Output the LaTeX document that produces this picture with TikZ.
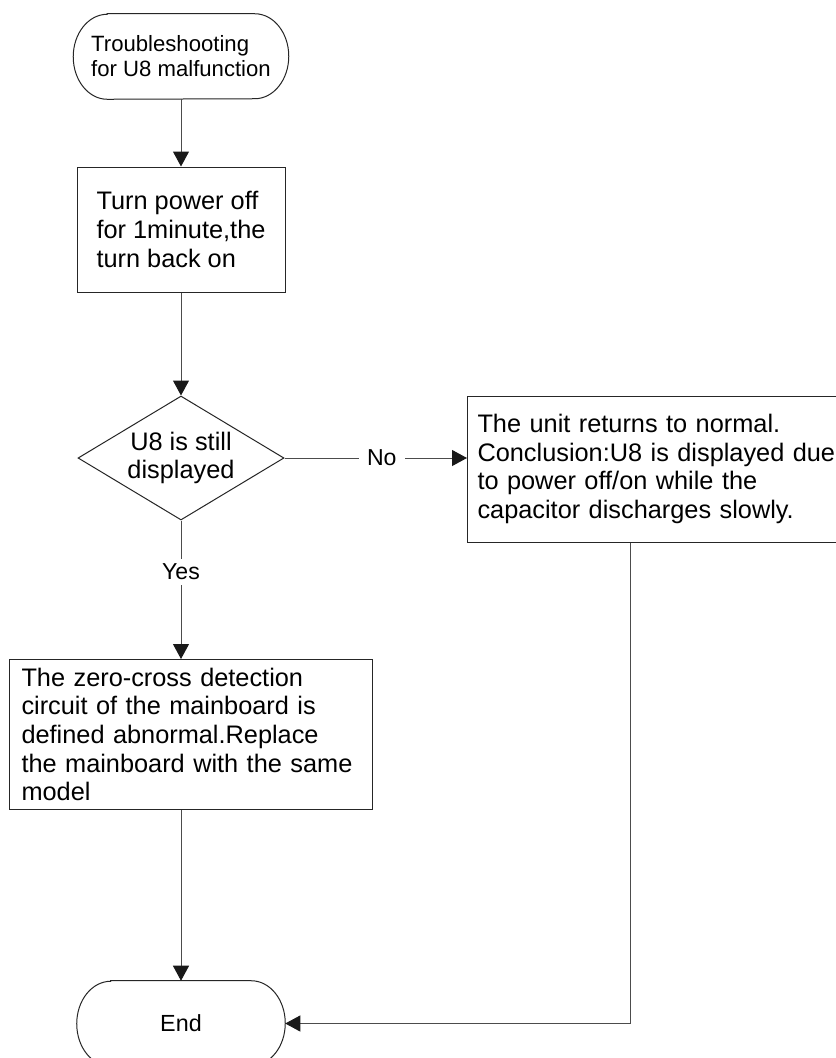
\documentclass[tikz,border=0pt]{standalone}
\usepackage{fontspec}
\setmainfont{Liberation Sans}
\usetikzlibrary{arrows.meta,shapes.geometric,calc}
\tikzset{
  outl/.style={draw=black!85, line width=0.75pt},
  conn/.style={draw=black!70, line width=0.75pt, -{Triangle[length=11.25pt,width=12pt,color=black!90]}},
  mainfont/.style={font=\fontsize{19pt}{21.5pt}\selectfont},
  procbox/.style={outl, mainfont, rectangle, align=left},
  term/.style={rectangle, minimum height=63.75pt, inner sep=0pt},
  decision/.style={outl, mainfont, diamond, aspect=1.66, inner sep=0pt, minimum width=154.5pt, minimum height=93pt, align=center},
  lbl/.style={fill=white, font=\fontsize{17.3pt}{20pt}\selectfont, inner xsep=6pt, inner ysep=4pt}
}
\newcommand\termoutline[1]{\draw[outl] ($(#1.north west)+(34,0)$) -- ($(#1.north east)+(-34,0)$) arc[start angle=90,end angle=-90,x radius=25.5pt,y radius=31.875pt] -- ($(#1.south west)+(34,0)$) arc[start angle=270,end angle=90,x radius=25.5pt,y radius=31.875pt] -- cycle;}
\begin{document}
\begin{tikzpicture}[x=0.75pt,y=-0.75pt]
\useasboundingbox (0,0) rectangle (836,1058);
\clip (0,0) rectangle (836,1058);
\fill[white] (0,0) rectangle (836,1058);

\node[term, minimum width=161.25pt, align=left, font=\fontsize{16.6pt}{18.75pt}\selectfont] (start) at (181,56.5) {Troubleshooting\\for U8 malfunction};
\termoutline{start}

\node[procbox, minimum width=156pt, minimum height=93.75pt] (off) at (181,229.5) {Turn power off\\for 1minute,the\\turn back on};

\node[decision] (dec) at (181,458) {U8 is still\\displayed};

\node[procbox, anchor=north west, text width=277.5pt, inner xsep=7.5pt, minimum height=109.5pt] (ok) at (467,395.5) {The unit returns to normal.\\Conclusion:U8 is displayed due\\to power off/on while the\\capacitor discharges slowly.};

\node[procbox, anchor=north west, text width=254.25pt, inner xsep=9pt, minimum height=112.5pt] (repl) at (9,659) {The zero-cross detection\\circuit of the mainboard is\\defined abnormal.Replace\\the mainboard with the same\\model};

\node[term, minimum width=156pt, align=center, font=\fontsize{17.5pt}{21pt}\selectfont] (fin) at (181,1023.5) {End};
\termoutline{fin}

\coordinate (okout) at ($(ok.south west)+(163.5,0)$);

\draw[conn] (start) -- (off);
\draw[conn] (off) -- (dec);
\draw[conn] (dec.east) -- node[lbl, pos=0.533] (no) {No} (dec.east -| ok.west);
\draw[conn] (dec.south) -- node[lbl, pos=0.372] (yes) {Yes} (dec.south |- repl.north);
\draw[conn] (dec.south |- repl.south) -- (fin.north);
\draw[conn] (okout) |- (fin.east);
\end{tikzpicture}
\end{document}
